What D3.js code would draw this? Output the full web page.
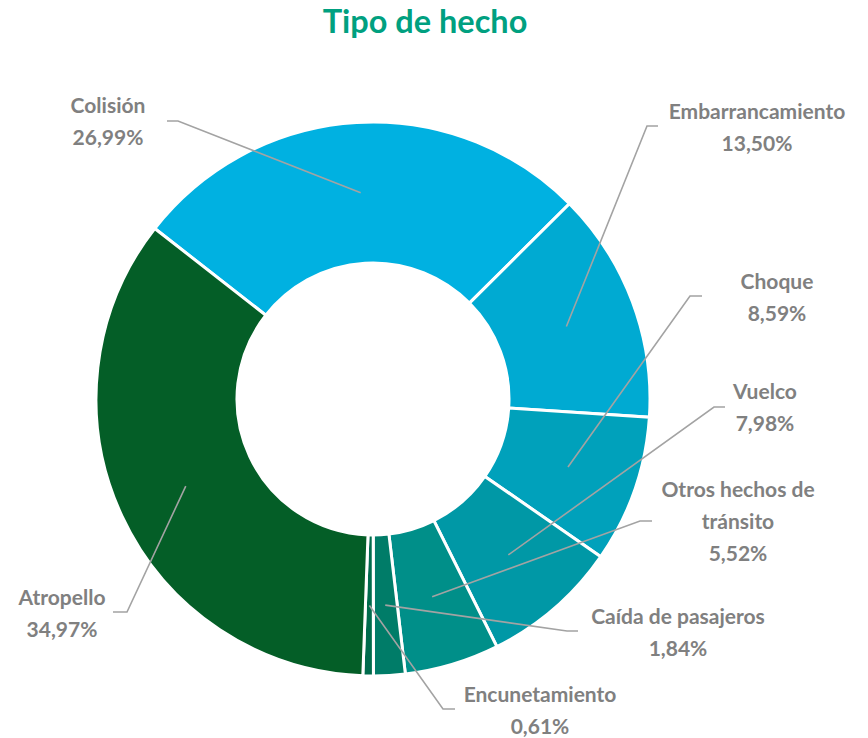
<!DOCTYPE html>
<html>
<head>
<meta charset="utf-8">
<script src="https://cdn.jsdelivr.net/npm/d3@7"></script>
<style>
  body { margin: 0; background: #fff; }
  svg { display: block; font-family: Lato, "Open Sans", sans-serif; }
</style>
</head>
<body>
<svg width="868" height="738"></svg>
<script>
// data
var categories = ['Colisión', 'Embarrancamiento', 'Choque', 'Vuelco', 'Otros hechos de tránsito', 'Caída de pasajeros', 'Encunetamiento', 'Atropello'];
var values = [26.99, 13.50, 8.59, 7.98, 5.52, 1.84, 0.61, 34.97];
var labelLines = [['Colisión'], ['Embarrancamiento'], ['Choque'], ['Vuelco'], ['Otros hechos de', 'tránsito'], ['Caída de pasajeros'], ['Encunetamiento'], ['Atropello']];
var colors = ['#00b1e1', '#00aad2', '#00a1bb', '#0098a6', '#008f89', '#007c68', '#006b4c', '#045e27'];

// label layout: text centre, first baseline, elbow, end of short horizontal
var labelLayout = [
    { x: 108, y: 113, ex: 178, ey: 121, hx: 167 },
    { x: 757, y: 119, ex: 647, ey: 126, hx: 658 },
    { x: 777, y: 289, ex: 690, ey: 296, hx: 702 },
    { x: 765, y: 399, ex: 714, ey: 407, hx: 725 },
    { x: 738, y: 497, ex: 640, ey: 521, hx: 652 },
    { x: 678, y: 624, ex: 567, ey: 631, hx: 578 },
    { x: 540, y: 702, ex: 443, ey: 709, hx: 455 },
    { x: 62,  y: 605, ex: 127, ey: 612, hx: 113 }
];

var svg = d3.select('svg');
var cx = 373, cy = 399;
var outerR = 277, innerR = 136;

svg.append('text')
    .attr('x', 425)
    .attr('y', 33)
    .attr('text-anchor', 'middle')
    .attr('fill', '#00a080')
    .attr('font-size', 32.5)
    .attr('font-weight', 'bold')
    .text('Tipo de hecho');

var data = categories.map(function(c, i) {
    return { name: c, value: values[i], color: colors[i], lines: labelLines[i], pos: labelLayout[i] };
});

var start = -52 * Math.PI / 180;
var pie = d3.pie()
    .sort(null)
    .value(function(d) { return d.value; })
    .startAngle(start)
    .endAngle(start + 2 * Math.PI);

var arc = d3.arc().innerRadius(innerR).outerRadius(outerR);
var midArc = d3.arc().innerRadius((innerR + outerR) / 2).outerRadius((innerR + outerR) / 2);

var chartG = svg.append('g')
    .attr('transform', 'translate(' + [cx, cy] + ')');

var arcs = pie(data);

chartG.selectAll('.slice')
    .data(arcs)
    .enter().append('path')
    .attr('class', 'slice')
    .attr('d', arc)
    .attr('fill', function(d) { return d.data.color; })
    .attr('stroke', '#fff')
    .attr('stroke-width', 3);

// leader lines
svg.selectAll('.leader')
    .data(arcs)
    .enter().append('polyline')
    .attr('class', 'leader')
    .attr('fill', 'none')
    .attr('stroke', '#a3a3a3')
    .attr('stroke-width', 1.6)
    .attr('points', function(d) {
        var c = midArc.centroid(d);
        var p = d.data.pos;
        return [[cx + c[0], cy + c[1]], [p.ex, p.ey], [p.hx, p.ey]].join(' ');
    });

// labels
var labels = svg.selectAll('.label')
    .data(arcs)
    .enter().append('text')
    .attr('class', 'label')
    .attr('text-anchor', 'middle')
    .attr('fill', '#808080')
    .attr('font-size', 21)
    .attr('font-weight', 'bold');

labels.each(function(d) {
    var t = d3.select(this);
    var p = d.data.pos;
    var lines = d.data.lines.concat([d3.format('.2f')(d.data.value).replace('.', ',') + '%']);
    lines.forEach(function(l, i) {
        t.append('tspan')
            .attr('x', p.x)
            .attr('y', p.y + i * 32)
            .text(l);
    });
});
</script>
</body>
</html>
